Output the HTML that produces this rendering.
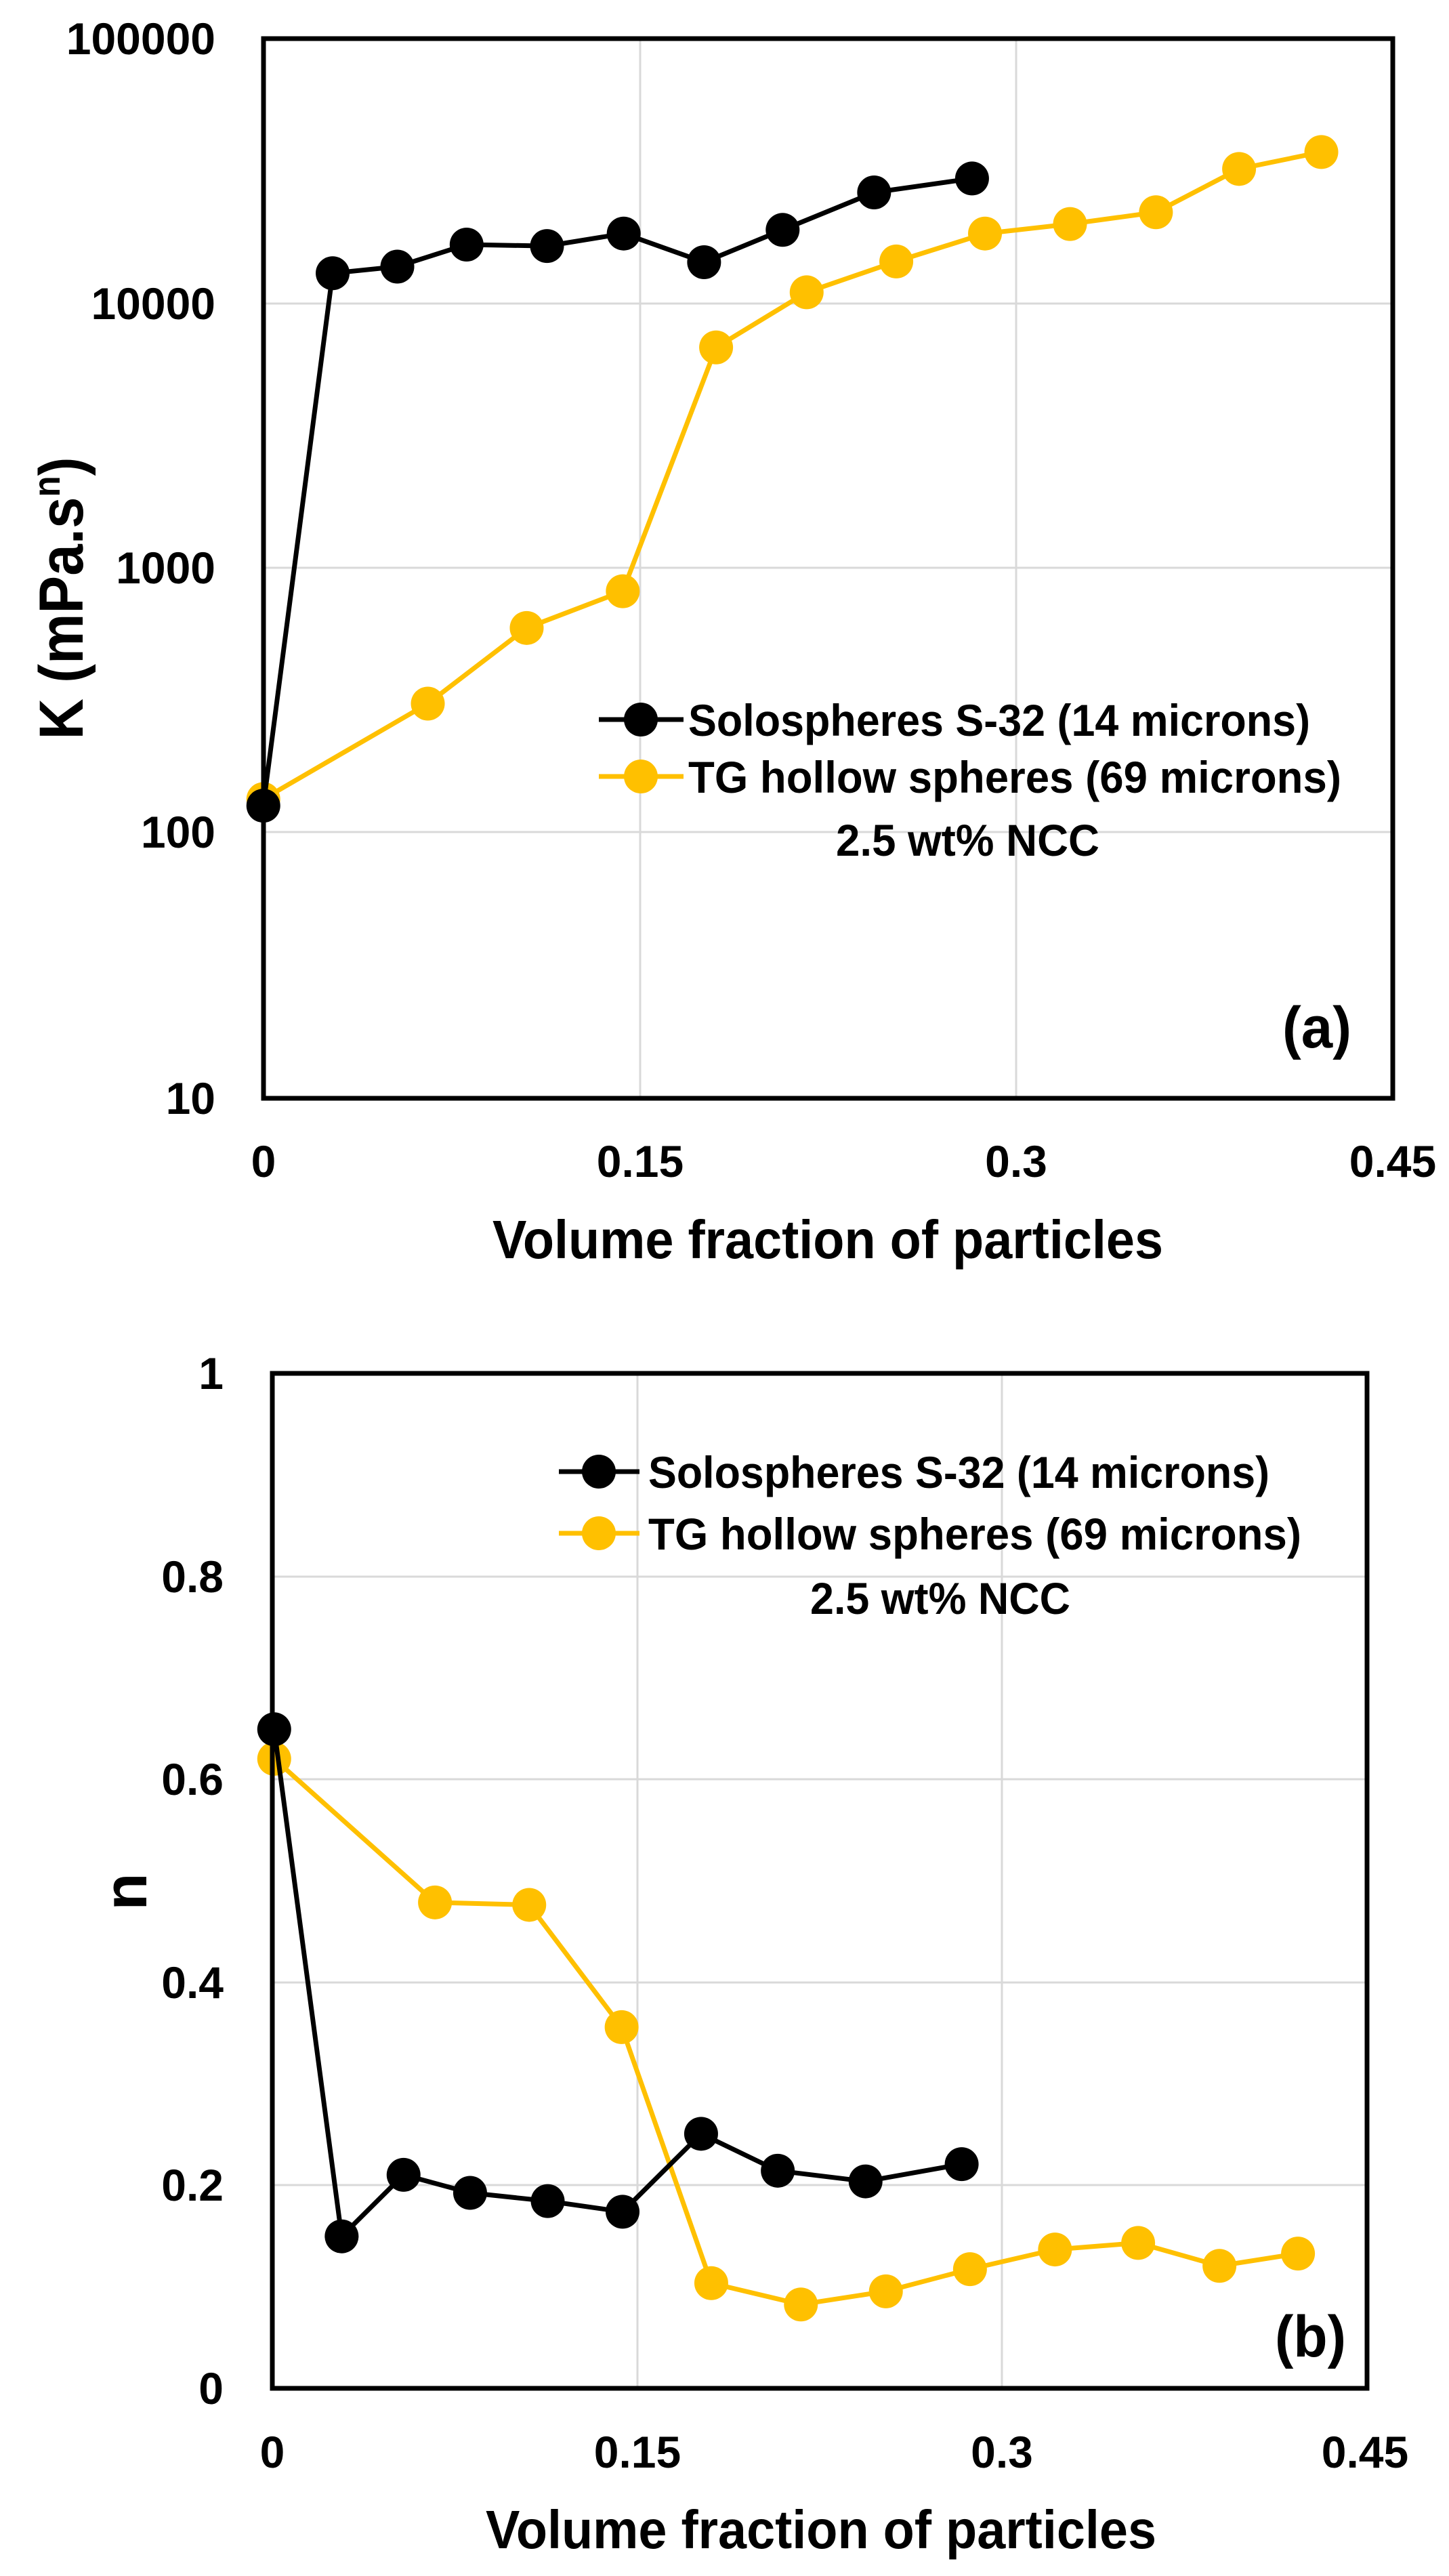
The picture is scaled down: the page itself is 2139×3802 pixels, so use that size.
<!DOCTYPE html>
<html><head><meta charset="utf-8"><style>
html,body{margin:0;padding:0;background:#fff}
svg{display:block}
text{font-family:"Liberation Sans",Arial,sans-serif;font-weight:bold;fill:#000}
</style></head><body>
<svg id="s" width="2139" height="3802" viewBox="0 0 2139 3802" xmlns="http://www.w3.org/2000/svg">
<rect width="2139" height="3802" fill="#fff"/>
<g stroke="#d9d9d9" stroke-width="3">
<line x1="389" y1="448" x2="2056" y2="448"/>
<line x1="389" y1="838" x2="2056" y2="838"/>
<line x1="389" y1="1228" x2="2056" y2="1228"/>
<line x1="945" y1="57" x2="945" y2="1621"/>
<line x1="1500" y1="57" x2="1500" y2="1621"/>
</g>
<g stroke="#d9d9d9" stroke-width="3">
<line x1="402" y1="2327" x2="2018" y2="2327"/>
<line x1="402" y1="2626" x2="2018" y2="2626"/>
<line x1="402" y1="2926" x2="2018" y2="2926"/>
<line x1="402" y1="3225" x2="2018" y2="3225"/>
<line x1="941" y1="2027" x2="941" y2="3525"/>
<line x1="1479" y1="2027" x2="1479" y2="3525"/>
</g>
<g id="series"></g>
<rect x="389" y="57" width="1667" height="1564" fill="none" stroke="#000" stroke-width="7"/>
<rect x="402" y="2027" width="1616" height="1498" fill="none" stroke="#000" stroke-width="7"/>

<g font-size="66" text-anchor="end">
<text x="318" y="80">100000</text>
<text x="318" y="471">10000</text>
<text x="318" y="861">1000</text>
<text x="318" y="1251">100</text>
<text x="318" y="1644">10</text>
</g>
<g font-size="66" text-anchor="middle">
<text x="389" y="1737">0</text>
<text x="945" y="1737">0.15</text>
<text x="1500" y="1737">0.3</text>
<text x="2056" y="1737">0.45</text>
</g>
<text x="1222" y="1857" font-size="80" text-anchor="middle" textLength="990" lengthAdjust="spacingAndGlyphs">Volume fraction of particles</text>
<text transform="translate(122,883) rotate(-90)" font-size="92" text-anchor="middle" textLength="417" lengthAdjust="spacingAndGlyphs">K (mPa.s<tspan font-size="56" dy="-34">n</tspan><tspan dy="34">)</tspan></text>

<line x1="884" y1="1062" x2="1009" y2="1062" stroke="#000" stroke-width="7"/>
<circle cx="946" cy="1062" r="25" fill="#000"/>
<text x="1016" y="1086" font-size="66" textLength="918" lengthAdjust="spacingAndGlyphs">Solospheres S-32 (14 microns)</text>
<line x1="884" y1="1146" x2="1009" y2="1146" stroke="#FFC000" stroke-width="7"/>
<circle cx="946" cy="1146" r="25" fill="#FFC000"/>
<text x="1016" y="1170" font-size="66" textLength="964" lengthAdjust="spacingAndGlyphs">TG hollow spheres (69 microns)</text>
<text x="1234" y="1263" font-size="66" textLength="389" lengthAdjust="spacingAndGlyphs">2.5 wt% NCC</text>
<text x="1893" y="1546" font-size="86" textLength="102" lengthAdjust="spacingAndGlyphs">(a)</text>

<g font-size="66" text-anchor="end">
<text x="330" y="2050">1</text>
<text x="330" y="2350">0.8</text>
<text x="330" y="2649">0.6</text>
<text x="330" y="2949">0.4</text>
<text x="330" y="3248">0.2</text>
<text x="330" y="3548">0</text>
</g>
<g font-size="66" text-anchor="middle">
<text x="402" y="3642">0</text>
<text x="941" y="3642">0.15</text>
<text x="1479" y="3642">0.3</text>
<text x="2015" y="3642">0.45</text>
</g>
<text x="1212" y="3761" font-size="80" text-anchor="middle" textLength="990" lengthAdjust="spacingAndGlyphs">Volume fraction of particles</text>
<text transform="translate(216,2792) rotate(-90)" font-size="90" text-anchor="middle">n</text>

<line x1="825" y1="2172" x2="944" y2="2172" stroke="#000" stroke-width="7"/>
<circle cx="884" cy="2172" r="25" fill="#000"/>
<text x="957" y="2196" font-size="66" textLength="917" lengthAdjust="spacingAndGlyphs">Solospheres S-32 (14 microns)</text>
<line x1="825" y1="2263" x2="944" y2="2263" stroke="#FFC000" stroke-width="7"/>
<circle cx="884" cy="2263" r="25" fill="#FFC000"/>
<text x="957" y="2287" font-size="66" textLength="964" lengthAdjust="spacingAndGlyphs">TG hollow spheres (69 microns)</text>
<text x="1196" y="2382" font-size="66" textLength="384" lengthAdjust="spacingAndGlyphs">2.5 wt% NCC</text>
<text x="1882" y="3478" font-size="86" textLength="105" lengthAdjust="spacingAndGlyphs">(b)</text>
</svg>
<script>
var NS="http://www.w3.org/2000/svg",g=document.getElementById("series");
function add(pts,fx,fy,col){
  var p=pts.map(function(a){return [fx(a[0]),fy(a[1])];});
  var pl=document.createElementNS(NS,"polyline");
  pl.setAttribute("points",p.map(function(a){return a.join(",");}).join(" "));
  pl.setAttribute("fill","none");pl.setAttribute("stroke",col);pl.setAttribute("stroke-width","7");
  pl.setAttribute("stroke-linejoin","round");g.appendChild(pl);
  p.forEach(function(a){var c=document.createElementNS(NS,"circle");c.setAttribute("cx",a[0]);c.setAttribute("cy",a[1]);c.setAttribute("r","25");c.setAttribute("fill",col);g.appendChild(c);});
}
var tx=function(x){return x*1.364;},ty=function(y){return y*1.084;};
add([[285,1088],[463,958],[570,855],[674,805],[775,473],[873,398],[970,356],[1066,318],[1158,305],[1251,289],[1341,230],[1430,207]],tx,ty,"#FFC000");
add([[285,1097],[360,372],[430,363],[505,333],[592,335],[675,318],[762,357],[847,313],[946,262],[1052,243]],tx,ty,"#000");
var bx=function(x){return 2.4+x*1.364;},by=function(y){return 1902+y*1.211;};
add([[295,573],[469,748],[571,751],[671,900],[768,1212],[865,1238],[957,1222],[1048,1195],[1140,1171],[1230,1163],[1318,1191],[1403,1176]],bx,by,"#FFC000");
add([[295,537],[368,1155],[435,1080],[507,1102],[591,1112],[672,1125],[757,1030],[840,1075],[935,1088],[1039,1067]],bx,by,"#000");
</script>
</body></html>
